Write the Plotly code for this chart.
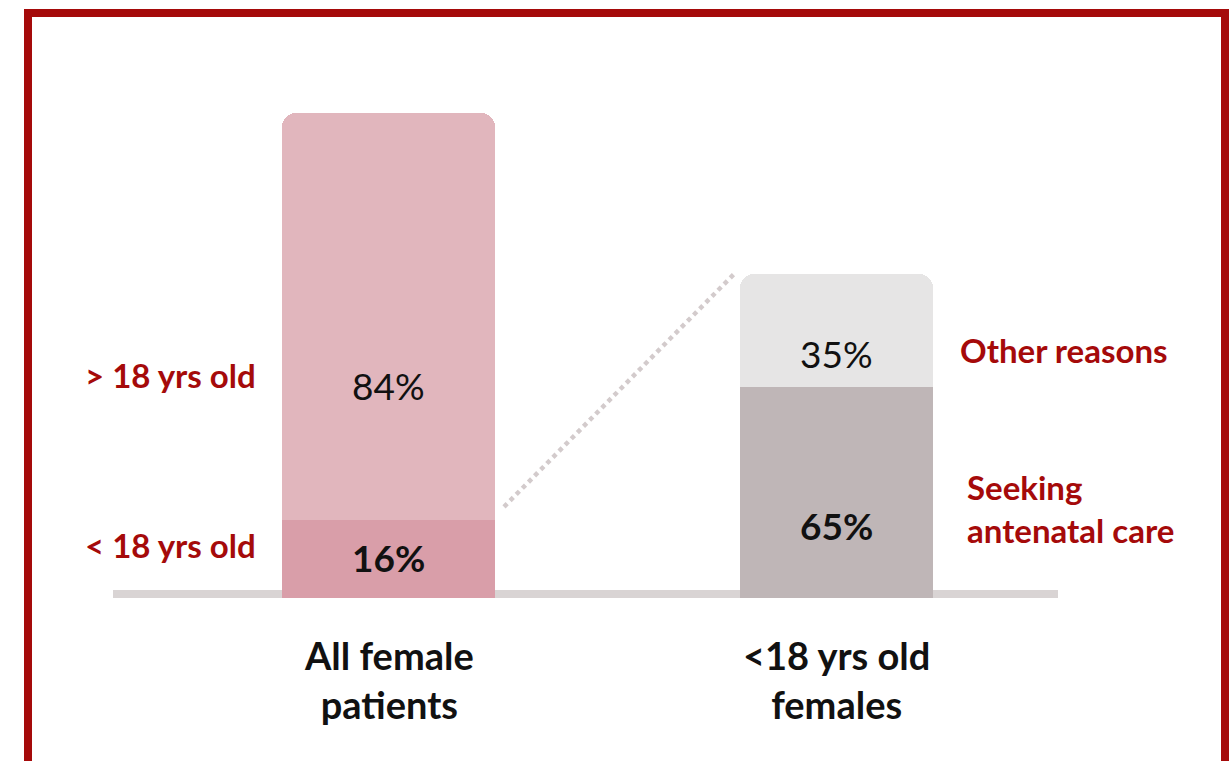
import plotly.graph_objects as go

# ---- data ----
categories = ["All female<br>patients", "<18 yrs old<br>females"]
all_female_under18 = 16
all_female_over18 = 84
under18_antenatal = 65
under18_other = 35
left_segment_labels = ["< 18 yrs old", "> 18 yrs old"]
right_segment_labels = ["Seeking<br>antenatal care", "Other reasons"]

# ---- geometry / style ----
W, H = 1230, 761
base_px = 598            # pixel row of value 0
left_px_per_unit = 4.85  # left bar scale
right_px_per_unit = 3.24 # right (zoomed) bar scale
cx0, px_per_x = 388.5, 448.0
w_left, w_right = 213 / px_per_x, 193 / px_per_x

RED = "#A50A0A"
DARK = "#111111"
FONT = "Lato"

fig = go.Figure()

fig.add_trace(go.Bar(x=[0], y=[all_female_under18], width=[w_left],
                     marker=dict(color="#D99EA9", line=dict(width=0)),
                     yaxis="y", hoverinfo="skip"))
fig.add_trace(go.Bar(x=[0], y=[all_female_over18], width=[w_left],
                     marker=dict(color="#E1B6BD", line=dict(width=0)),
                     yaxis="y", hoverinfo="skip"))
fig.add_trace(go.Bar(x=[1], y=[under18_antenatal], width=[w_right],
                     marker=dict(color="#BFB6B7", line=dict(width=0)),
                     yaxis="y2", hoverinfo="skip"))
fig.add_trace(go.Bar(x=[1], y=[under18_other], width=[w_right],
                     marker=dict(color="#E6E5E5", line=dict(width=0)),
                     yaxis="y2", hoverinfo="skip"))

y_top = base_px / left_px_per_unit
y2_top = base_px / right_px_per_unit
ratio = right_px_per_unit / left_px_per_unit

def px_x(xr):  # pixel x -> data x
    return (xr - cx0) / px_per_x

shapes = [
    # baseline
    dict(type="rect", xref="x", yref="y",
         x0=px_x(113), x1=px_x(1058),
         y0=0, y1=8 / left_px_per_unit,
         fillcolor="#D9D4D4", line=dict(width=0), layer="below"),
    # dotted connector
    dict(type="line", xref="x", yref="y",
         x0=w_left / 2 + 9 / px_per_x, y0=all_female_under18 + 2.8,
         x1=1 - w_right / 2 - 4 / px_per_x,
         y1=(under18_antenatal + under18_other) * ratio + 0.4,
         line=dict(color="#D3CBCC", width=4.5, dash="4.5px,4.2px")),
    # frame
    dict(type="rect", xref="paper", yref="paper",
         x0=28 / W, x1=1225 / W,
         y0=(base_px - 800) / base_px, y1=(base_px - 13) / base_px,
         line=dict(color=RED, width=8), fillcolor="rgba(0,0,0,0)"),
]

ann = []
def add(text, x, y, yref="y", size=30, color=DARK, bold=False,
        xanchor="center", xshift=0, align="center"):
    t = f"<b>{text}</b>" if bold else text
    ann.append(dict(text=t, x=x, y=y, xref="x", yref=yref, showarrow=False,
                    xanchor=xanchor, yanchor="middle", xshift=xshift, align=align,
                    font=dict(family=FONT, size=size, color=color)))

def ly(py):
    return (base_px - py) / left_px_per_unit
def ry(py):
    return (base_px - py) / right_px_per_unit

add(f"{all_female_over18}%", 0, ly(385), size=37)
add(f"{all_female_under18}%", 0, ly(557), size=37, bold=True)
add(f"{under18_other}%", 1, ry(353), yref="y2", size=37)
add(f"{under18_antenatal}%", 1, ry(525), yref="y2", size=37, bold=True)

add(left_segment_labels[1], -w_left / 2, ly(375), size=33, color=RED, bold=True,
    xanchor="right", xshift=-24)
add(left_segment_labels[0], -w_left / 2, ly(545), size=33, color=RED, bold=True,
    xanchor="right", xshift=-24)
add(right_segment_labels[1], 1 + w_right / 2, ry(350), yref="y2", size=33, color=RED,
    bold=True, xanchor="left", xshift=25, align="left")
add(right_segment_labels[0], 1 + w_right / 2, ry(508), yref="y2", size=33, color=RED,
    bold=True, xanchor="left", xshift=32, align="left")

for i, c in enumerate(categories):
    ann.append(dict(text=f"<b>{c}</b>", x=i, y=(base_px - 679) / base_px,
                    xref="x", yref="paper", showarrow=False,
                    xanchor="center", yanchor="middle", align="center",
                    font=dict(family=FONT, size=38, color=DARK)))

fig.update_layout(
    width=W, height=H,
    margin=dict(l=0, r=0, t=0, b=H - base_px),
    paper_bgcolor="white", plot_bgcolor="white",
    barmode="stack", barcornerradius=14, showlegend=False,
    xaxis=dict(range=[-cx0 / px_per_x, (W - cx0) / px_per_x], visible=False, fixedrange=True),
    yaxis=dict(range=[0, y_top], visible=False, fixedrange=True),
    yaxis2=dict(range=[0, y2_top], overlaying="y", visible=False, fixedrange=True),
    shapes=shapes, annotations=ann,
    hovermode=False,
)

fig.write_html("out.html", config={"displayModeBar": False},
               post_script="document.body.style.margin='0';document.body.style.overflow='hidden';")
